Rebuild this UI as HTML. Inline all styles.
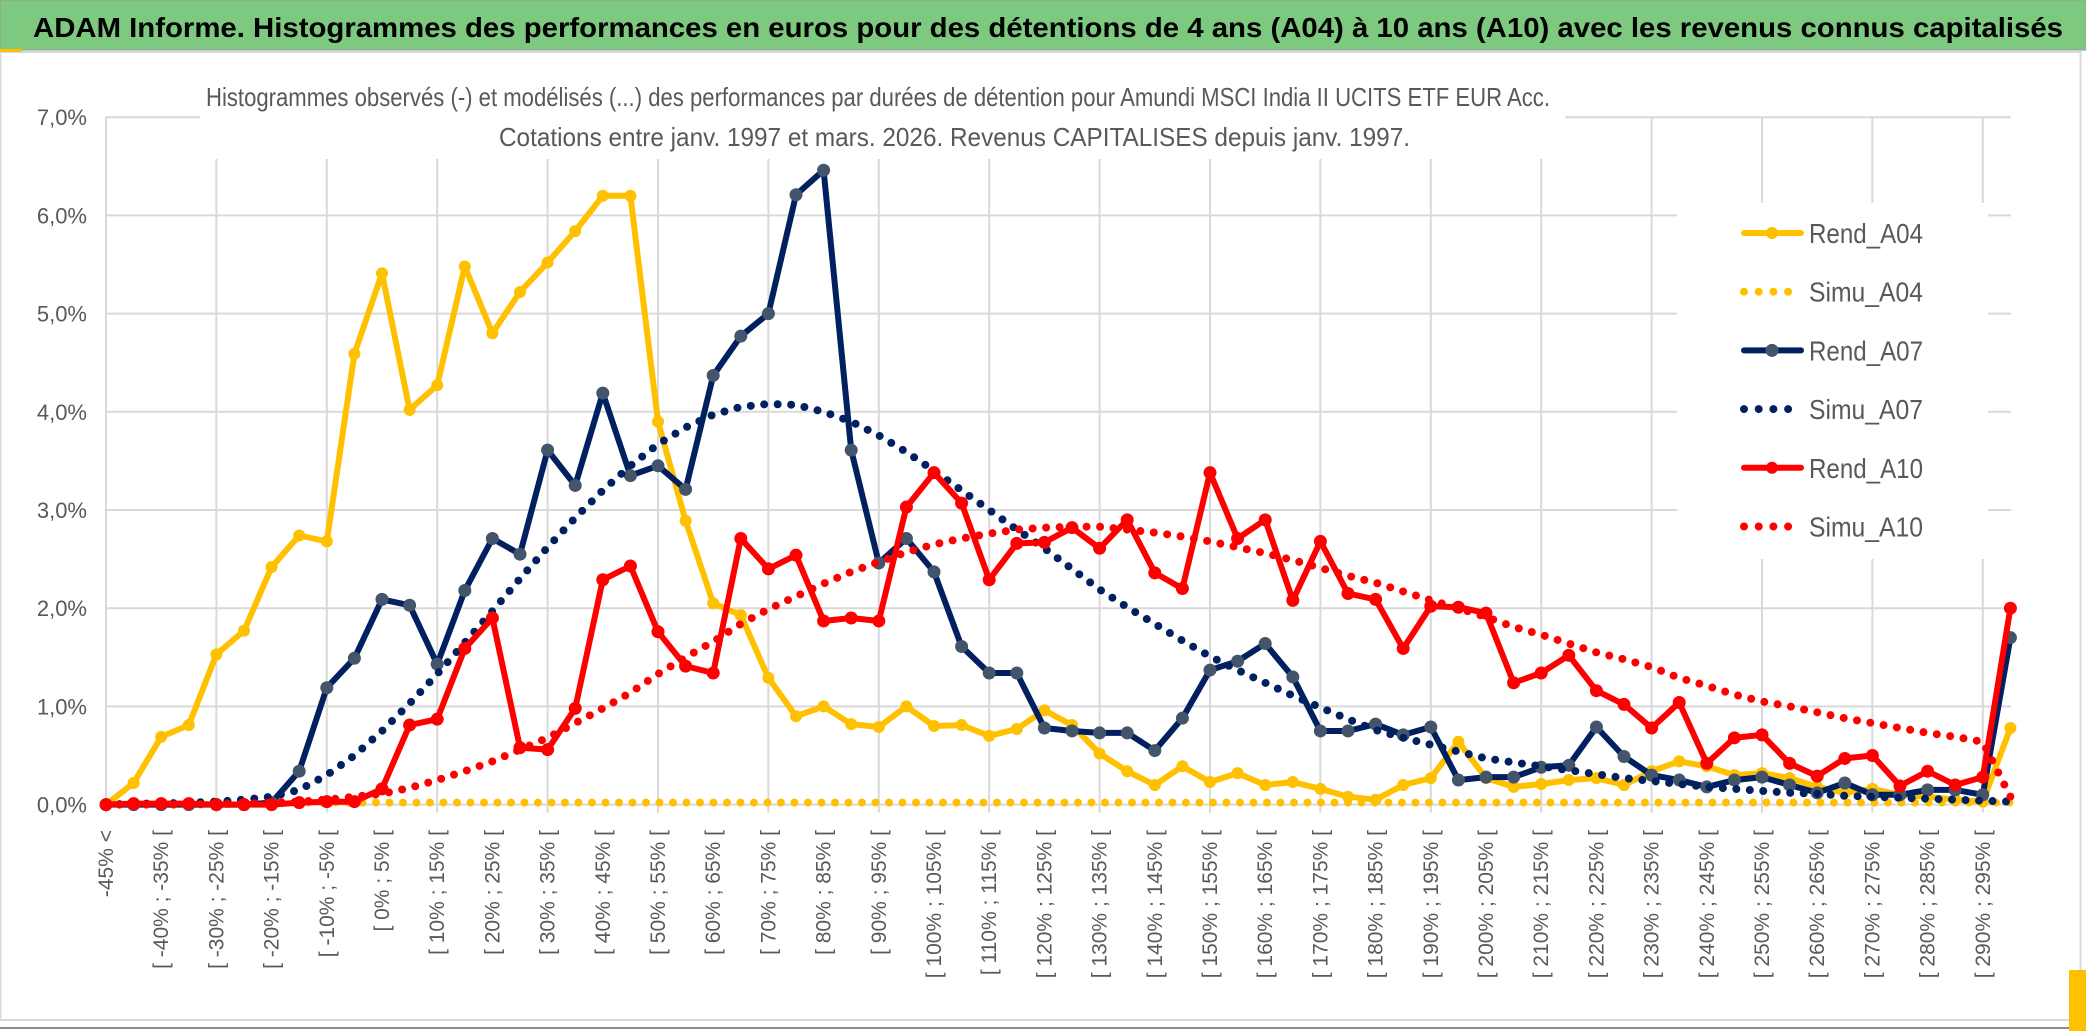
<!DOCTYPE html>
<html><head><meta charset="utf-8"><title>ADAM Informe</title>
<style>
html,body{margin:0;padding:0;background:#fff;}
svg{display:block;font-family:"Liberation Sans",sans-serif;}
</style></head>
<body>
<svg id="chart" width="2086" height="1031" viewBox="0 0 2086 1031" xmlns="http://www.w3.org/2000/svg">
  <rect x="0" y="0" width="2086" height="1031" fill="#ffffff"/>
  <rect x="0.5" y="52" width="2080" height="968" fill="#fff" stroke="#d9d9d9" stroke-width="2"/>
  <line x1="0" y1="1028" x2="2086" y2="1028" stroke="#8c8c8c" stroke-width="2"/>
  <rect x="2069" y="970" width="17" height="61" fill="#FFC000"/>
  <rect x="0" y="0" width="2086" height="50" fill="#7DC97F" stroke="#9a9a9a" stroke-width="1"/>
  <rect x="0" y="49" width="22" height="3" fill="#FFC000"/>
  <text x="33" y="37" font-size="28" font-weight="bold" fill="#000" textLength="2030" lengthAdjust="spacingAndGlyphs">ADAM Informe. Histogrammes des performances en euros pour des détentions de 4 ans (A04) à 10 ans (A10) avec les revenus connus capitalisés</text>
  <g id="grid"></g>
  <rect x="200" y="78" width="1365" height="81" fill="#fff"/>
  <text x="206" y="106" font-size="26" fill="#595959" textLength="1344" lengthAdjust="spacingAndGlyphs">Histogrammes observés (-) et modélisés (...) des performances par durées de détention pour Amundi MSCI India II UCITS ETF EUR Acc.</text>
  <text x="499" y="146" font-size="26" fill="#595959" textLength="911" lengthAdjust="spacingAndGlyphs">Cotations entre janv. 1997 et mars. 2026. Revenus CAPITALISES depuis janv. 1997.</text>
  <g id="yaxis"></g>
  <g id="xaxis"></g>
  <rect x="1677" y="203" width="311" height="356" fill="#fff"/>
  <g id="series"></g>
  <g id="legend"></g>
</svg>
<script>
const yTicks = [0,1,2,3,4,5,6,7];
const yTickLabels = ["0,0%","1,0%","2,0%","3,0%","4,0%","5,0%","6,0%","7,0%"];
const rendA04 = [0,0.22,0.69,0.81,1.53,1.77,2.42,2.74,2.68,4.59,5.41,4.02,4.27,5.48,4.80,5.22,5.52,5.84,6.20,6.20,3.90,2.89,2.05,1.93,1.29,0.90,1.00,0.82,0.79,1.00,0.80,0.81,0.70,0.77,0.96,0.81,0.52,0.34,0.20,0.39,0.23,0.32,0.20,0.23,0.16,0.08,0.05,0.20,0.27,0.64,0.27,0.18,0.21,0.25,0.27,0.20,0.34,0.44,0.39,0.30,0.32,0.27,0.18,0.12,0.16,0.10,0.08,0.05,0.03,0.78];
const simuA04 = [0,0,0,0,0,0.01,0.01,0.02,0.02,0.02,0.02,0.02,0.02,0.02,0.02,0.02,0.02,0.02,0.02,0.02,0.02,0.02,0.02,0.02,0.02,0.02,0.02,0.02,0.02,0.02,0.02,0.02,0.02,0.02,0.02,0.02,0.02,0.02,0.02,0.02,0.02,0.02,0.02,0.02,0.02,0.02,0.02,0.02,0.02,0.02,0.02,0.02,0.02,0.02,0.02,0.02,0.02,0.02,0.02,0.02,0.02,0.02,0.02,0.02,0.02,0.02,0.02,0.02,0.02,0.02];
const rendA07 = [0,0,0,0,0,0,0.02,0.34,1.19,1.49,2.09,2.03,1.43,2.18,2.71,2.55,3.61,3.25,4.19,3.35,3.45,3.21,4.37,4.77,5.00,6.21,6.46,3.61,2.46,2.71,2.37,1.61,1.34,1.34,0.78,0.75,0.73,0.73,0.55,0.88,1.37,1.46,1.64,1.30,0.75,0.75,0.82,0.71,0.79,0.25,0.28,0.28,0.38,0.40,0.79,0.49,0.30,0.25,0.18,0.25,0.28,0.20,0.12,0.22,0.10,0.10,0.15,0.15,0.10,1.70];
const simuA07 = [0,0.01,0.01,0.02,0.03,0.05,0.08,0.15,0.30,0.50,0.75,1.03,1.33,1.65,1.97,2.30,2.62,2.92,3.20,3.45,3.67,3.84,3.97,4.05,4.08,4.07,4.00,3.90,3.76,3.59,3.40,3.20,3.00,2.80,2.61,2.40,2.19,2.01,1.84,1.67,1.51,1.37,1.24,1.11,0.99,0.87,0.76,0.68,0.61,0.54,0.47,0.43,0.39,0.35,0.31,0.27,0.24,0.21,0.18,0.16,0.14,0.12,0.11,0.09,0.08,0.07,0.06,0.05,0.04,0.03];
const rendA10 = [0,0.01,0.01,0.01,0,0,0,0.02,0.03,0.03,0.16,0.81,0.87,1.59,1.90,0.58,0.56,0.98,2.29,2.43,1.76,1.41,1.34,2.71,2.40,2.54,1.87,1.90,1.87,3.03,3.38,3.07,2.29,2.66,2.67,2.82,2.61,2.90,2.36,2.20,3.38,2.71,2.90,2.08,2.68,2.15,2.09,1.59,2.02,2.01,1.95,1.24,1.34,1.52,1.16,1.02,0.78,1.04,0.42,0.68,0.71,0.42,0.29,0.47,0.50,0.19,0.34,0.20,0.28,2.00];
const simuA10 = [0,0,0,0,0.01,0.01,0.02,0.03,0.05,0.08,0.11,0.17,0.25,0.34,0.44,0.56,0.68,0.83,0.98,1.14,1.33,1.50,1.66,1.84,1.99,2.12,2.25,2.37,2.47,2.57,2.65,2.71,2.76,2.80,2.82,2.83,2.83,2.80,2.77,2.73,2.68,2.62,2.56,2.49,2.41,2.33,2.26,2.17,2.08,2.00,1.91,1.81,1.73,1.64,1.55,1.48,1.40,1.29,1.21,1.12,1.05,1.00,0.94,0.88,0.83,0.78,0.73,0.69,0.64,0.08];
const categories = ["-45% <"];
for (let k = 1; k < 70; k++) { const lo = -45 + 5*(k-1); categories.push("[ " + lo + "% ; " + (lo+5) + "% ["); }

const NS = "http://www.w3.org/2000/svg";
const X0 = 106, DX = 27.6, Y0 = 804.6, DY = 98.2, XR = 2011, YT = 117;
function xs(i){ return X0 + DX*i; }
function ys(v){ return Y0 - DY*v; }
function mk(tag, attrs, parent){ const e = document.createElementNS(NS, tag); for (const k in attrs) e.setAttribute(k, attrs[k]); parent.appendChild(e); return e; }

const grid = document.getElementById('grid');
yTicks.forEach(function(t){
  const l = mk('line', {x1:X0, x2:XR, y1:ys(t), y2:ys(t), stroke:'#d9d9d9', 'stroke-width':2}, grid);
  
  
});
for (let i = 0; i < categories.length; i += 4) {
  const l = mk('line', {x1:xs(i), x2:xs(i), y1:YT, y2:ys(0)+8, stroke:'#d9d9d9', 'stroke-width':2}, grid);
  
  
}
const yax = document.getElementById('yaxis');
yTicks.forEach(function(t, j){
  const tx = mk('text', {x:87, y:ys(t)+8, 'text-anchor':'end', 'font-size':22, fill:'#595959'}, yax);
  tx.textContent = yTickLabels[j];
  
  
});
const xax = document.getElementById('xaxis');
for (let i = 0; i < categories.length; i += 2) {
  const x = xs(i) + 7;
  const tx = mk('text', {x:x, y:830, 'text-anchor':'end', 'font-size':21, fill:'#595959', transform:'rotate(-90 '+x+' 830)'}, xax);
  tx.textContent = categories[i];
  
  
}

const ser = document.getElementById('series');
function pts(arr){ return arr.map(function(v,i){ return xs(i).toFixed(1)+','+ys(v).toFixed(1); }).join(' '); }
function solid(arr, color, mcolor, r, name){
  const g = mk('g', {}, ser);
  
  
  const p = mk('polyline', {points:pts(arr), fill:'none', stroke:color, 'stroke-width':6, 'stroke-linejoin':'round'}, g);
  
  
  arr.forEach(function(v,i){
    const c = mk('circle', {cx:xs(i), cy:ys(v), r:r, fill:mcolor}, g);
    
    
  });
}
function dotted(arr, color, name){
  const p = mk('polyline', {points:pts(arr), fill:'none', stroke:color, 'stroke-width':8, 'stroke-linecap':'round', 'stroke-dasharray':'0 13.5'}, ser);
  
  
}
solid(rendA04, '#FFC000', '#FFC000', 6, 'rend-a04');
dotted(simuA04, '#FFC000', 'simu-a04');
solid(rendA07, '#002060', '#44546A', 6.5, 'rend-a07');
dotted(simuA07, '#002060', 'simu-a07');
solid(rendA10, '#FF0000', '#FF0000', 6.5, 'rend-a10');
dotted(simuA10, '#FF0000', 'simu-a10');

const legendNames = ["Rend_A04","Simu_A04","Rend_A07","Simu_A07","Rend_A10","Simu_A10"];
const legendColors = ["#FFC000","#FFC000","#002060","#002060","#FF0000","#FF0000"];
const leg = document.getElementById('legend');
legendNames.forEach(function(n, j){
  const y = 233 + 58.7*j;
  const g = mk('g', {}, leg);
  
  
  if (j % 2 === 0) {
    mk('line', {x1:1744, x2:1801, y1:y, y2:y, stroke:legendColors[j], 'stroke-width':6, 'stroke-linecap':'round'}, g);
    mk('circle', {cx:1772, cy:y, r:j===2?6.5:6, fill:j===2?'#44546A':legendColors[j]}, g);
  } else {
    mk('line', {x1:1744, x2:1795, y1:y, y2:y, stroke:legendColors[j], 'stroke-width':8, 'stroke-linecap':'round', 'stroke-dasharray':'0 14.7'}, g);
  }
  const t = mk('text', {x:1809, y:y+10, 'font-size':28, fill:'#595959', textLength:114, lengthAdjust:'spacingAndGlyphs'}, g);
  t.textContent = n;
});
</script>
</body></html>
